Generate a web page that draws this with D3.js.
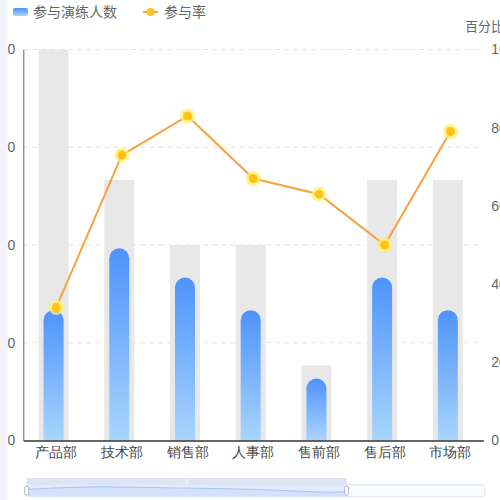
<!DOCTYPE html>
<html>
<head>
<meta charset="utf-8">
<script src="https://cdn.jsdelivr.net/npm/d3@7"></script>
<style>
  body { margin: 0; background: #fff; }
  svg { display: block; font-family: "Noto Sans CJK SC", "Noto Sans", sans-serif; }
</style>
</head>
<body>
<div id="chart"></div>
<script>
// data
var departments = ["产品部", "技术部", "销售部", "人事部", "售前部", "售后部", "市场部"];
var totalCounts = [120, 80, 60, 60, 23, 80, 80];      // grey background bars
var joinCounts = [40, 59, 50, 40, 19, 50, 40];        // 参与演练人数
var joinRates = [34, 73, 83, 67, 63, 50, 79];         // 参与率 (%)
var leftTicks = [0, 30, 60, 90, 120];
var rightTicks = [0, 20, 40, 60, 80, 100];

var svgWidth = 500;
var svgHeight = 500;

var plot = { left: 23.3, right: 483.3, top: 49.5, bottom: 440.5 };
var barShift = -2.6;   // bars sit slightly left of the category centre

var svg = d3.select("#chart")
  .append("svg")
  .attr("width", svgWidth)
  .attr("height", svgHeight);

var defs = svg.append("defs");
var grad = defs.append("linearGradient")
  .attr("id", "blueGrad")
  .attr("x1", 0).attr("y1", 0).attr("x2", 0).attr("y2", 1);
grad.append("stop").attr("offset", "0%").attr("stop-color", "#4d93fc");
grad.append("stop").attr("offset", "100%").attr("stop-color", "#a9d5fd");

// scales
var xScale = d3.scaleBand()
  .domain(departments)
  .range([plot.left, plot.right])
  .padding(0);

var yLeft = d3.scaleLinear()
  .domain([0, 120])
  .range([plot.bottom, plot.top]);

var yRight = d3.scaleLinear()
  .domain([0, 100])
  .range([plot.bottom, plot.top]);

// grid lines
svg.append("g")
  .selectAll("line")
  .data(leftTicks.slice(1))
  .enter()
  .append("line")
  .attr("x1", plot.left)
  .attr("x2", plot.right)
  .attr("y1", d => yLeft(d))
  .attr("y2", d => yLeft(d))
  .attr("stroke", "#e3e3e3")
  .attr("stroke-dasharray", "5,4");

// grey background bars
var greyW = 30;
svg.append("g")
  .selectAll("rect")
  .data(departments)
  .enter()
  .append("rect")
  .attr("x", d => xScale(d) + xScale.bandwidth() / 2 - greyW / 2 + barShift)
  .attr("y", (d, i) => yLeft(totalCounts[i]))
  .attr("width", greyW)
  .attr("height", (d, i) => yLeft(0) - yLeft(totalCounts[i]))
  .attr("fill", "#e8e8e8");

// blue bars with rounded tops
var blueW = 20;
svg.append("g")
  .selectAll("path")
  .data(departments)
  .enter()
  .append("path")
  .attr("d", function(d, i) {
    var x0 = xScale(d) + xScale.bandwidth() / 2 - blueW / 2 + barShift;
    var y0 = yLeft(joinCounts[i]);
    var yb = yLeft(0);
    var r = blueW / 2;
    return `M${x0},${yb} L${x0},${y0 + r} A${r},${r} 0 0 1 ${x0 + blueW},${y0 + r} L${x0 + blueW},${yb} Z`;
  })
  .attr("fill", "url(#blueGrad)");

// axes
var leftAxis = d3.axisLeft(yLeft).tickValues(leftTicks).tickSize(0).tickPadding(8);
var rightAxis = d3.axisRight(yRight).tickValues(rightTicks).tickSize(0).tickPadding(8);
var bottomAxis = d3.axisBottom(xScale).tickSize(0).tickPadding(7);

var gLeft = svg.append("g")
  .attr("transform", `translate(${plot.left},0)`)
  .call(leftAxis);
gLeft.select(".domain").attr("stroke", "#666");
gLeft.selectAll("text").attr("fill", "#666").style("font-size", "14px");

var gRight = svg.append("g")
  .attr("transform", `translate(${plot.right},0)`)
  .call(rightAxis);
gRight.select(".domain").remove();
gRight.selectAll("text").attr("fill", "#666").style("font-size", "14px");

var gBottom = svg.append("g")
  .attr("transform", `translate(0,${plot.bottom})`)
  .call(bottomAxis);
gBottom.select(".domain").attr("stroke", "#333").attr("stroke-width", 1.5);
gBottom.selectAll("text").attr("fill", "#444").style("font-size", "14px");

svg.append("text")
  .attr("x", 465)
  .attr("y", 31)
  .attr("fill", "#666")
  .style("font-size", "13px")
  .text("百分比");

// rate line
var line = d3.line()
  .x(d => xScale(d.dep) + xScale.bandwidth() / 2)
  .y(d => yRight(d.rate));

var lineData = departments.map((d, i) => ({ dep: d, rate: joinRates[i] }));

svg.append("path")
  .datum(lineData)
  .attr("d", line)
  .attr("fill", "none")
  .attr("stroke", "#f7a23b")
  .attr("stroke-width", 2);

var pts = svg.append("g")
  .selectAll("g")
  .data(lineData)
  .enter()
  .append("g")
  .attr("transform", d => `translate(${xScale(d.dep) + xScale.bandwidth() / 2},${yRight(d.rate)})`);
pts.append("circle").attr("r", 7.5).attr("fill", "#fff06a").attr("opacity", 0.75);
pts.append("circle").attr("r", 4.5).attr("fill", "#ffc21c");

// legend
var legend = svg.append("g");
legend.append("rect")
  .attr("x", 13).attr("y", 8).attr("width", 15).attr("height", 8)
  .attr("rx", 2).attr("fill", "url(#blueGrad)");
legend.append("text")
  .attr("x", 33).attr("y", 17)
  .attr("fill", "#666").style("font-size", "14px")
  .text("参与演练人数");
legend.append("line")
  .attr("x1", 143).attr("x2", 158).attr("y1", 12).attr("y2", 12)
  .attr("stroke", "#f7a23b").attr("stroke-width", 2);
legend.append("circle")
  .attr("cx", 150.5).attr("cy", 12).attr("r", 4).attr("fill", "#ffc21c");
legend.append("text")
  .attr("x", 164).attr("y", 17)
  .attr("fill", "#666").style("font-size", "14px")
  .text("参与率");

// data zoom slider
var slider = { x0: 26.7, x1: 485, top: 478, barBottom: 484.7, bottom: 496.7, handle: 346.7 };

svg.append("rect")
  .attr("x", slider.x0).attr("y", slider.barBottom)
  .attr("width", slider.x1 - slider.x0).attr("height", slider.bottom - slider.barBottom)
  .attr("rx", 3)
  .attr("fill", "#fafbfe").attr("stroke", "#dbe2f1");

var shadowX = d3.scalePoint().domain(departments).range([slider.x0, slider.x1]);
var shadowY = d3.scaleLinear().domain([0, 60]).range([slider.bottom - 2, slider.barBottom + 2]);

svg.append("clipPath").attr("id", "selClip")
  .append("rect")
  .attr("x", slider.x0).attr("y", slider.barBottom)
  .attr("width", slider.handle - slider.x0).attr("height", slider.bottom - slider.barBottom);

svg.append("rect")
  .attr("x", slider.x0).attr("y", slider.barBottom)
  .attr("width", slider.handle - slider.x0).attr("height", slider.bottom - slider.barBottom)
  .attr("fill", "#e3ecfd");

var shadowArea = d3.area()
  .x((d, i) => shadowX(departments[i]))
  .y0(slider.bottom)
  .y1(d => shadowY(d))
  .curve(d3.curveMonotoneX);
var shadowLine = d3.line()
  .x((d, i) => shadowX(departments[i]))
  .y(d => shadowY(d))
  .curve(d3.curveMonotoneX);

svg.append("path")
  .datum(joinCounts)
  .attr("d", shadowArea)
  .attr("fill", "#d3e1fb")
  .attr("clip-path", "url(#selClip)");
svg.append("path")
  .datum(joinCounts)
  .attr("d", shadowLine)
  .attr("fill", "none")
  .attr("stroke", "#a9c4f5")
  .attr("clip-path", "url(#selClip)");

svg.append("rect")
  .attr("x", slider.x0).attr("y", slider.top)
  .attr("width", slider.handle - slider.x0).attr("height", slider.barBottom - slider.top)
  .attr("fill", "#dde4f4");
svg.append("text")
  .attr("x", (slider.x0 + slider.handle) / 2).attr("y", 483)
  .attr("text-anchor", "middle")
  .attr("fill", "#fff").style("font-size", "5px")
  .text("|||");

[slider.x0, slider.handle].forEach(function(hx) {
  svg.append("rect")
    .attr("x", hx - 2).attr("y", slider.barBottom + 1.5)
    .attr("width", 4).attr("height", slider.bottom - slider.barBottom - 3)
    .attr("rx", 2)
    .attr("fill", "#fff").attr("stroke", "#a9b5cf");
});

// page side strip
svg.append("rect")
  .attr("x", 0).attr("y", 0).attr("width", 7.5).attr("height", svgHeight)
  .attr("fill", "#f3f4f9");
</script>
</body>
</html>
